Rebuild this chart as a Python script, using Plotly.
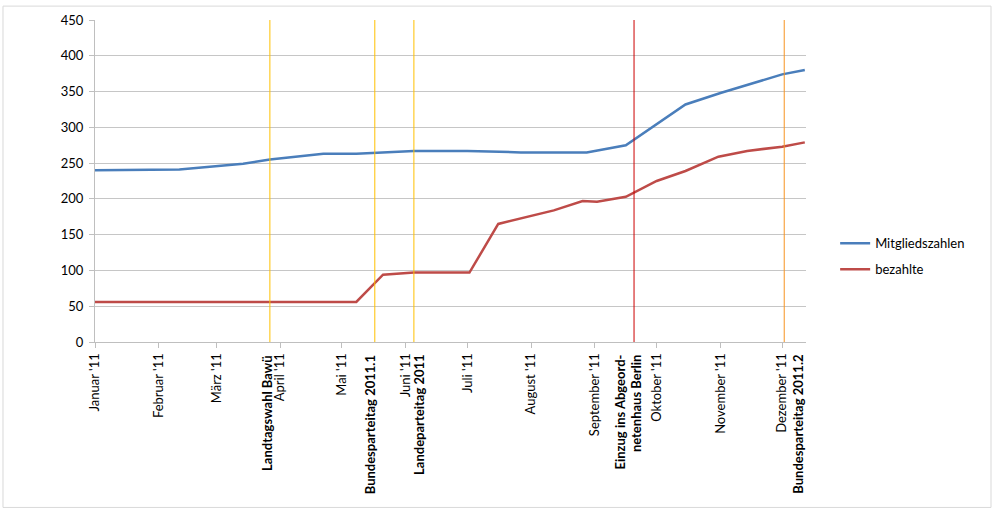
import plotly.graph_objects as go

# ---- data ----
member_dates = ["2011-01-01", "2011-02-01", "2011-02-11", "2011-03-14", "2011-03-27",
                "2011-04-22", "2011-05-08", "2011-06-05", "2011-07-01", "2011-07-27",
                "2011-08-28", "2011-09-16", "2011-10-15", "2011-11-01", "2011-12-01",
                "2011-12-12"]
member_values = [240, 240, 241, 249, 255, 263, 263, 267, 267, 265, 265, 275, 332, 348, 374, 380]

paid_dates = ["2011-01-01", "2011-05-08", "2011-05-21", "2011-06-05", "2011-07-02",
              "2011-07-16", "2011-08-12", "2011-08-26", "2011-09-02", "2011-09-16",
              "2011-10-01", "2011-10-15", "2011-10-31", "2011-11-14", "2011-12-01",
              "2011-12-12"]
paid_values = [56, 56, 94, 97, 97, 165, 184, 197, 196, 203, 225, 239, 259, 267, 273, 279]

month_ticks = ["2011-01-01", "2011-02-01", "2011-03-01", "2011-04-01", "2011-05-01",
               "2011-06-01", "2011-07-01", "2011-08-01", "2011-09-01", "2011-10-01",
               "2011-11-01", "2011-12-01"]
month_labels = ["Januar '11", "Februar '11", "März '11", "April '11", "Mai '11", "Juni '11",
                "Juli '11", "August '11", "September '11", "Oktober '11", "November '11",
                "Dezember '11"]

event_dates = ["2011-03-27", "2011-05-17", "2011-06-05", "2011-09-20", "2011-12-02"]
event_labels = ["Landtagswahl Bawü", "Bundesparteitag 2011.1", "Landeparteitag 2011",
                "Einzug ins Abgeord-<br>netenhaus Berlin", "Bundesparteitag 2011.2"]

y_ticks = [0, 50, 100, 150, 200, 250, 300, 350, 400, 450]
x_range = ["2011-01-01", "2011-12-12 14:00"]

# ---- styles ----
event_colors = ["#FFC000", "#FFC000", "#FFC000", "#CC0000", "#F79420"]
event_label_shift = [-3, -5, 5, -6, 13]
FONT = "Lato, 'Open Sans', sans-serif"

fig = go.Figure()
fig.add_trace(go.Scatter(x=member_dates, y=member_values, mode="lines", name="Mitgliedszahlen",
                         legendgroup="a", line=dict(color="#4A7EBB", width=2.5)))
fig.add_trace(go.Scatter(x=paid_dates, y=paid_values, mode="lines", name="bezahlte",
                         legendgroup="b", line=dict(color="#BE4B48", width=2.5)))

for d, lab, c, sh in zip(event_dates, event_labels, event_colors, event_label_shift):
    fig.add_shape(type="line", xref="x", yref="paper", x0=d, x1=d, y0=0, y1=1,
                  line=dict(color=c, width=1), layer="above")
    fig.add_annotation(x=d, xref="x", y=0, yref="paper", text=f"<b>{lab}</b>",
                       textangle=-90, showarrow=False, xanchor="center", yanchor="top",
                       xshift=sh, yshift=-11, align="right",
                       font=dict(family=FONT, size=13, color="#000000"))

# outer chart border
fig.add_shape(type="rect", xref="paper", yref="paper", x0=-0.1294, x1=1.2602,
              y0=-0.5138, y1=1.0431, line=dict(color="#D9D9D9", width=1), layer="below")

fig.update_layout(
    width=993, height=511,
    margin=dict(l=95, r=187, t=17, b=169),
    paper_bgcolor="white", plot_bgcolor="white",
    font=dict(family=FONT, size=13, color="#000000"),
    showlegend=True,
    legend=dict(x=1.041, y=0.266, xanchor="left", yanchor="middle",
                font=dict(family=FONT, size=13, color="#000000"),
                bgcolor="rgba(0,0,0,0)", itemwidth=30, tracegroupgap=6,
                traceorder="grouped"),
    xaxis=dict(type="date", range=x_range, tickvals=month_ticks, ticktext=month_labels,
               tickangle=-90, showgrid=False, showline=True, linecolor="#BFBFBF",
               ticks="outside", ticklen=5, tickcolor="#BFBFBF", zeroline=False,
               tickfont=dict(family=FONT, size=13, color="#000000")),
    yaxis=dict(range=[0, 450], tickvals=y_ticks, showgrid=True, gridcolor="#C6C6C6",
               showline=True, linecolor="#BFBFBF", ticks="outside", ticklen=5,
               tickcolor="#BFBFBF", zeroline=False, ticklabelstandoff=3,
               tickfont=dict(family=FONT, size=13, color="#000000")),
)

fig.write_html("out.html", config={"displayModeBar": False},
               post_script="document.body.style.margin='0';document.body.style.padding='0';")
